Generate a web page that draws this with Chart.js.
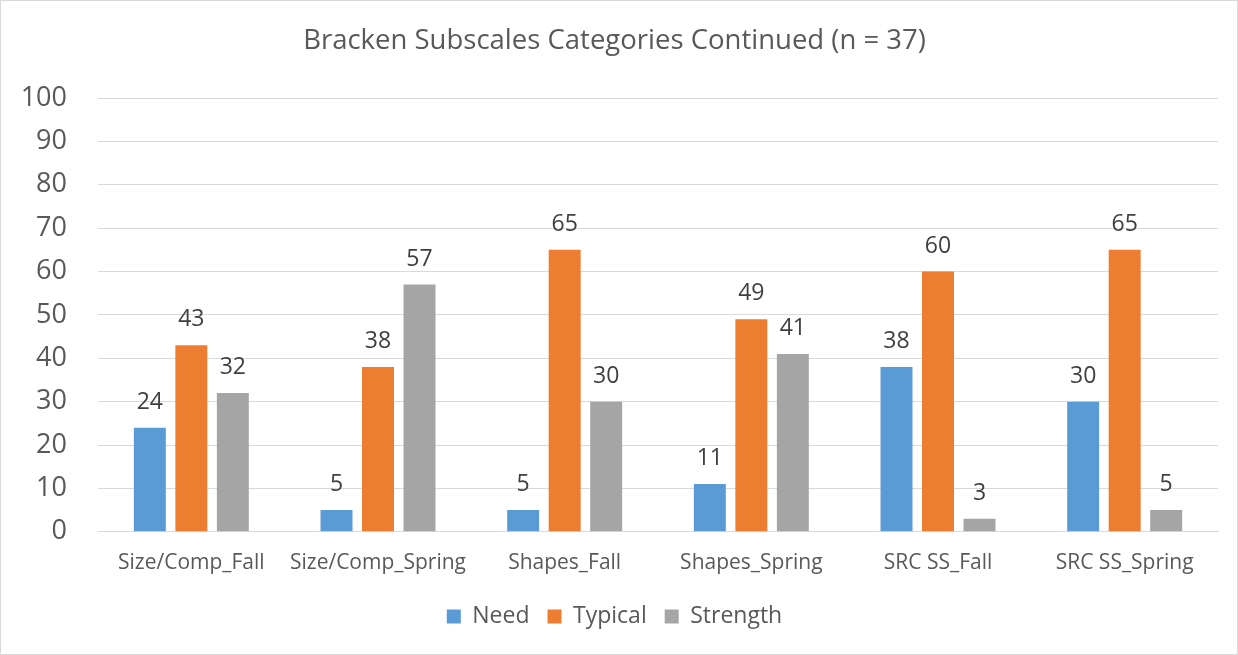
<!DOCTYPE html>
<html lang="en">
<head>
<meta charset="UTF-8">
<title>Bracken Subscales Categories Continued</title>
<script src="https://cdn.jsdelivr.net/npm/chart.js"></script>
<style>
  body { margin: 0; background: #fff; }
  .grafica { width: 1236px; height: 653px; border: 1px solid #d9d9d9; }
</style>
</head>
<body>
<div class="grafica"><canvas id="myChart"></canvas></div>
<script>
  // datos
  const categorias = ['Size/Comp_Fall', 'Size/Comp_Spring', 'Shapes_Fall', 'Shapes_Spring', 'SRC SS_Fall', 'SRC SS_Spring'];
  const need = [24, 5, 5, 11, 38, 30];
  const typical = [43, 38, 65, 49, 60, 65];
  const strength = [32, 57, 30, 41, 3, 5];
  const ticksY = [0, 10, 20, 30, 40, 50, 60, 70, 80, 90, 100];

  const fuente = "'Open Sans', 'Noto Sans', sans-serif";
  const gris = '#595959';

  // etiquetas encima de cada barra
  const etiquetas = {
    id: 'etiquetas',
    afterDatasetsDraw(chart) {
      const ctx = chart.ctx;
      ctx.save();
      ctx.font = '23px ' + fuente;
      ctx.fillStyle = '#404040';
      ctx.textAlign = 'center';
      ctx.textBaseline = 'alphabetic';
      chart.data.datasets.forEach((ds, i) => {
        chart.getDatasetMeta(i).data.forEach((bar, j) => {
          ctx.fillText(ds.data[j], bar.x, bar.y - 19);
        });
      });
      ctx.restore();
    }
  };

  const config = {
    type: 'bar',
    data: {
      labels: categorias,
      datasets: [
        { label: 'Need', data: need, backgroundColor: '#5b9bd5' },
        { label: 'Typical', data: typical, backgroundColor: '#ed7d31' },
        { label: 'Strength', data: strength, backgroundColor: '#a5a5a5' }
      ]
    },
    options: {
      responsive: true,
      maintainAspectRatio: false,
      animation: false,
      layout: { padding: { left: 10, right: 19, top: 8, bottom: 16 } },
      datasets: { bar: { categoryPercentage: 0.667, barPercentage: 0.77 } },
      plugins: {
        title: {
          display: true,
          text: 'Bracken Subscales Categories Continued (n = 37)',
          color: gris,
          font: { family: fuente, size: 27.5, weight: 'normal' },
          padding: { top: 16, bottom: 40 }
        },
        legend: {
          position: 'bottom',
          labels: {
            color: gris,
            font: { family: fuente, size: 23 },
            boxWidth: 14,
            boxHeight: 14,
            padding: 18
          }
        },
        tooltip: { enabled: false }
      },
      scales: {
        y: {
          min: 0,
          max: 100,
          afterBuildTicks(scale) { scale.ticks = ticksY.map(v => ({ value: v })); },
          afterFit(scale) { scale.width = 87; },
          ticks: { color: gris, font: { family: fuente, size: 27 }, padding: 31 },
          grid: { color: '#d9d9d9', drawTicks: false },
          border: { display: false }
        },
        x: {
          ticks: { color: gris, font: { family: fuente, size: 21 }, padding: 11 },
          grid: { display: false },
          border: { color: '#d9d9d9' }
        }
      }
    },
    plugins: [etiquetas]
  };

  new Chart(document.getElementById('myChart'), config);
</script>
</body>
</html>
